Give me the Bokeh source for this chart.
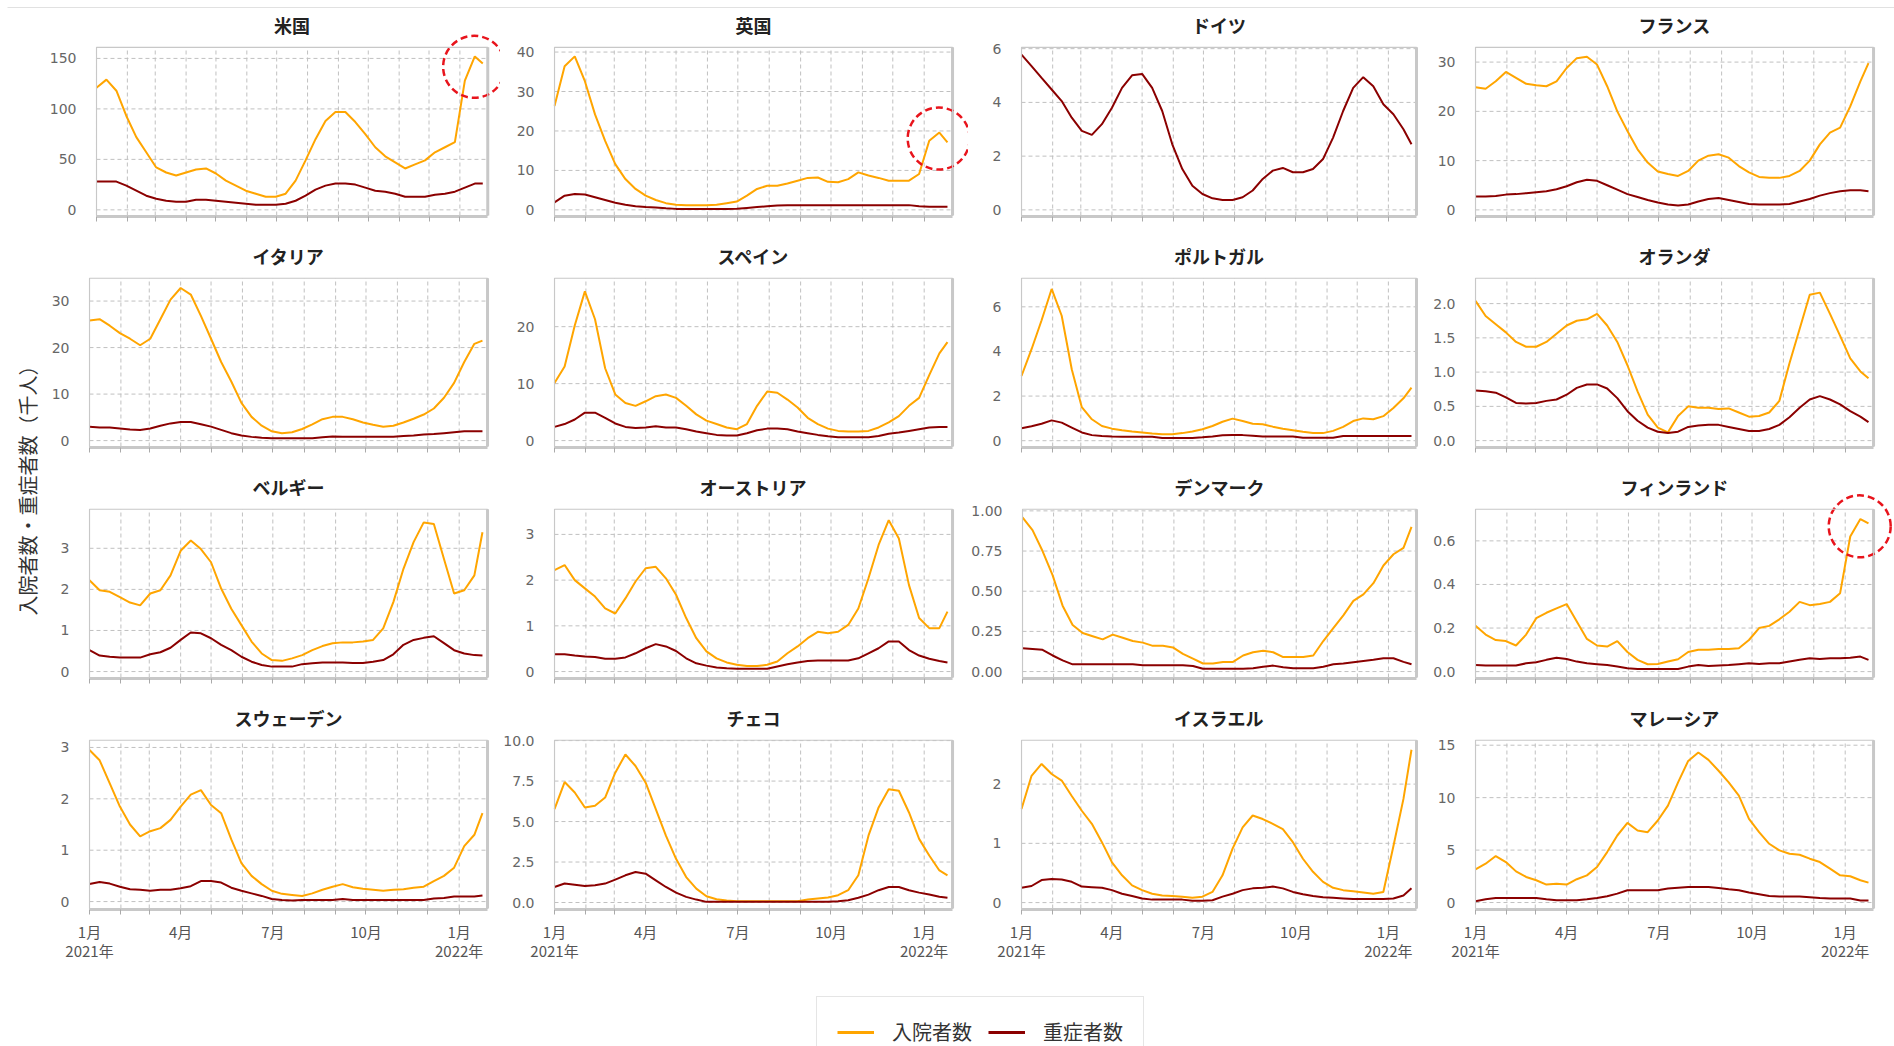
import datetime as dt
import math

from bokeh.embed import file_html
from bokeh.layouts import column, row
from bokeh.models import (BoxAnnotation, FixedTicker, Label, Legend, LegendItem,
                          NumeralTickFormatter, Range1d)
from bokeh.plotting import figure
from bokeh.resources import INLINE

# ---------------------------------------------------------------- data
# sampling dates (every 10 days from 2021-01-01 to 2022-01-24)
dates = [
    "2021-01-01", "2021-01-11", "2021-01-21", "2021-01-31", "2021-02-10",
    "2021-02-20", "2021-03-02", "2021-03-12", "2021-03-22", "2021-04-01",
    "2021-04-11", "2021-04-21", "2021-05-01", "2021-05-11", "2021-05-21",
    "2021-05-31", "2021-06-10", "2021-06-20", "2021-06-30", "2021-07-10",
    "2021-07-20", "2021-07-30", "2021-08-09", "2021-08-19", "2021-08-29",
    "2021-09-08", "2021-09-18", "2021-09-28", "2021-10-08", "2021-10-18",
    "2021-10-28", "2021-11-07", "2021-11-17", "2021-11-27", "2021-12-07",
    "2021-12-17", "2021-12-27", "2022-01-06", "2022-01-16", "2022-01-24",
]

countries = ["米国", "英国", "ドイツ", "フランス",
             "イタリア", "スペイン", "ポルトガル", "オランダ",
             "ベルギー", "オーストリア", "デンマーク", "フィンランド",
             "スウェーデン", "チェコ", "イスラエル", "マレーシア"]

# hospitalised (入院者数) and severe (重症者数), thousands of people
us_hosp = [121, 129, 118, 93, 72, 57, 42, 37, 34, 37, 40, 41, 36, 29, 24, 19, 16, 13, 13, 16,
           29, 49, 70, 88, 97, 97, 87, 75, 62, 53, 47, 41, 45, 49, 57, 62, 67, 128, 152, 145]
us_icu = [28, 28, 28, 24, 19, 14, 11, 9, 8, 8, 10, 10, 9, 8, 7, 6, 5, 5, 5, 6,
          9, 14, 20, 24, 26, 26, 25, 22, 19, 18, 16, 13, 13, 13, 15, 16, 18, 22, 26, 26]

uk_hosp = [26.3, 36.4, 38.9, 32.6, 24.2, 17.5, 11.6, 7.8, 5.3, 3.6, 2.5, 1.7, 1.3, 1.2, 1.2,
           1.2, 1.3, 1.7, 2.1, 3.6, 5.3, 6.1, 6.1, 6.7, 7.4, 8.1, 8.2, 7.1, 7.0, 7.8,
           9.5, 8.7, 8.1, 7.4, 7.4, 7.4, 9.1, 17.5, 19.6, 17.1]
uk_icu = [1.9, 3.6, 4.0, 3.9, 3.2, 2.5, 1.8, 1.3, 0.9, 0.7, 0.6, 0.4, 0.25, 0.2, 0.2,
          0.2, 0.2, 0.2, 0.3, 0.5, 0.7, 0.9, 1.1, 1.2, 1.2, 1.2, 1.2, 1.2, 1.2, 1.2,
          1.2, 1.2, 1.2, 1.2, 1.2, 1.2, 0.9, 0.8, 0.8, 0.8]

de_icu = [5.78, 5.35, 4.91, 4.48, 4.05, 3.43, 2.94, 2.79, 3.19, 3.80, 4.54, 5.01, 5.06, 4.54,
          3.68, 2.44, 1.52, 0.90, 0.59, 0.43, 0.37, 0.37, 0.47, 0.72, 1.15, 1.46, 1.56, 1.40,
          1.40, 1.52, 1.89, 2.69, 3.68, 4.54, 4.94, 4.60, 3.93, 3.56, 3.00, 2.44]

fr_hosp = [24.9, 24.6, 26.1, 28.0, 26.8, 25.6, 25.3, 25.1, 26.1, 28.8, 30.8, 31.1, 29.5, 25.1,
           20.0, 16.0, 12.3, 9.6, 7.8, 7.3, 6.9, 7.9, 10.0, 11.0, 11.3, 10.6, 8.9, 7.6, 6.7,
           6.5, 6.5, 6.9, 7.9, 10.0, 13.3, 15.7, 16.7, 21.0, 26.1, 29.8]
fr_icu = [2.7, 2.7, 2.8, 3.1, 3.2, 3.4, 3.6, 3.8, 4.2, 4.8, 5.6, 6.1, 5.9, 5.0, 4.1, 3.2, 2.6,
          2.0, 1.5, 1.1, 0.9, 1.1, 1.7, 2.2, 2.4, 2.0, 1.6, 1.2, 1.1, 1.1, 1.1, 1.2, 1.7, 2.2,
          2.9, 3.4, 3.8, 4.0, 4.0, 3.8]

it_hosp = [25.8, 26.1, 24.7, 23.1, 21.9, 20.5, 21.9, 26.1, 30.3, 32.8, 31.4, 26.8, 21.9, 16.9,
           12.7, 8.1, 5.1, 3.2, 2.0, 1.6, 1.8, 2.5, 3.5, 4.6, 5.1, 5.1, 4.6, 3.9, 3.4, 3.0,
           3.2, 3.9, 4.7, 5.6, 6.9, 9.2, 12.4, 16.9, 20.8, 21.5]
it_icu = [3.0, 2.8, 2.8, 2.6, 2.4, 2.3, 2.6, 3.2, 3.7, 4.0, 4.0, 3.5, 3.0, 2.3, 1.6, 1.1, 0.8,
          0.6, 0.5, 0.5, 0.5, 0.5, 0.5, 0.7, 0.9, 0.85, 0.85, 0.85, 0.85, 0.85, 0.85, 1.0,
          1.1, 1.3, 1.4, 1.6, 1.8, 2.0, 2.0, 2.0]

es_hosp = [10.1, 13.0, 20.2, 26.2, 21.3, 12.7, 8.1, 6.6, 6.1, 6.9, 7.8, 8.1, 7.5, 6.1, 4.6,
           3.5, 2.9, 2.3, 2.0, 2.9, 6.1, 8.6, 8.4, 7.2, 5.8, 4.0, 2.9, 2.1, 1.7, 1.6, 1.6,
           1.7, 2.3, 3.2, 4.3, 6.1, 7.5, 11.5, 15.3, 17.3]
es_icu = [2.4, 2.9, 3.7, 4.9, 4.9, 4.0, 3.0, 2.4, 2.2, 2.3, 2.5, 2.3, 2.3, 2.0, 1.6, 1.3, 1.0,
          0.9, 0.9, 1.3, 1.8, 2.1, 2.1, 2.0, 1.6, 1.3, 1.0, 0.75, 0.6, 0.6, 0.6, 0.6, 0.8,
          1.2, 1.4, 1.7, 2.0, 2.3, 2.4, 2.4]

pt_hosp = [2.9, 4.1, 5.4, 6.8, 5.6, 3.2, 1.5, 0.96, 0.66, 0.54, 0.47, 0.41, 0.37, 0.32, 0.29,
           0.29, 0.34, 0.41, 0.51, 0.66, 0.85, 0.99, 0.88, 0.76, 0.74, 0.63, 0.54, 0.47, 0.40,
           0.35, 0.34, 0.44, 0.62, 0.88, 1.0, 0.96, 1.1, 1.47, 1.9, 2.38]
pt_icu = [0.56, 0.65, 0.76, 0.91, 0.81, 0.59, 0.37, 0.25, 0.21, 0.19, 0.18, 0.18, 0.18, 0.18,
          0.12, 0.12, 0.12, 0.12, 0.15, 0.19, 0.24, 0.26, 0.25, 0.22, 0.19, 0.19, 0.19, 0.19,
          0.13, 0.13, 0.13, 0.13, 0.21, 0.21, 0.21, 0.21, 0.21, 0.21, 0.21, 0.21]

nl_hosp = [2.04, 1.82, 1.70, 1.58, 1.44, 1.37, 1.37, 1.44, 1.56, 1.68, 1.75, 1.77, 1.85, 1.68,
           1.44, 1.10, 0.72, 0.38, 0.19, 0.12, 0.36, 0.50, 0.48, 0.48, 0.46, 0.47, 0.41, 0.35,
           0.36, 0.41, 0.58, 1.13, 1.63, 2.13, 2.16, 1.85, 1.53, 1.20, 1.01, 0.91]
nl_icu = [0.73, 0.72, 0.70, 0.63, 0.55, 0.54, 0.55, 0.58, 0.60, 0.67, 0.77, 0.82, 0.82, 0.76,
          0.62, 0.43, 0.29, 0.19, 0.13, 0.11, 0.13, 0.20, 0.22, 0.23, 0.23, 0.20, 0.17, 0.14,
          0.14, 0.17, 0.23, 0.34, 0.48, 0.60, 0.65, 0.60, 0.53, 0.43, 0.35, 0.27]

be_hosp = [2.22, 1.98, 1.94, 1.81, 1.68, 1.61, 1.90, 1.98, 2.34, 2.94, 3.19, 2.98, 2.66, 2.02,
           1.53, 1.13, 0.73, 0.44, 0.28, 0.26, 0.32, 0.40, 0.52, 0.62, 0.69, 0.71, 0.71, 0.73,
           0.77, 1.05, 1.69, 2.50, 3.15, 3.63, 3.59, 2.74, 1.90, 1.98, 2.34, 3.39]
be_icu = [0.52, 0.39, 0.36, 0.34, 0.34, 0.34, 0.42, 0.47, 0.58, 0.77, 0.95, 0.93, 0.81, 0.65,
          0.52, 0.36, 0.24, 0.16, 0.12, 0.12, 0.12, 0.18, 0.20, 0.22, 0.22, 0.22, 0.21, 0.21,
          0.24, 0.28, 0.42, 0.65, 0.77, 0.82, 0.86, 0.69, 0.52, 0.44, 0.40, 0.39]

at_hosp = [2.22, 2.33, 2.00, 1.82, 1.64, 1.38, 1.27, 1.60, 1.97, 2.26, 2.29, 2.04, 1.68, 1.17,
           0.73, 0.44, 0.29, 0.20, 0.15, 0.12, 0.12, 0.15, 0.22, 0.40, 0.55, 0.73, 0.87, 0.84,
           0.87, 1.02, 1.38, 2.04, 2.77, 3.31, 2.91, 1.89, 1.17, 0.95, 0.95, 1.31]
at_icu = [0.38, 0.38, 0.35, 0.33, 0.32, 0.28, 0.28, 0.31, 0.40, 0.51, 0.60, 0.55, 0.45, 0.29,
          0.18, 0.13, 0.09, 0.07, 0.06, 0.06, 0.06, 0.06, 0.11, 0.16, 0.20, 0.23, 0.24, 0.24,
          0.24, 0.24, 0.29, 0.40, 0.51, 0.66, 0.66, 0.47, 0.35, 0.28, 0.23, 0.20]

dk_hosp = [0.96, 0.88, 0.75, 0.60, 0.41, 0.29, 0.24, 0.22, 0.20, 0.23, 0.21, 0.19, 0.18, 0.16,
           0.16, 0.15, 0.11, 0.08, 0.05, 0.05, 0.06, 0.06, 0.10, 0.12, 0.13, 0.12, 0.09, 0.09,
           0.09, 0.10, 0.19, 0.27, 0.35, 0.44, 0.48, 0.55, 0.66, 0.73, 0.77, 0.90]
dk_icu = [0.145, 0.14, 0.135, 0.10, 0.07, 0.045, 0.045, 0.045, 0.045, 0.045, 0.045, 0.045,
          0.04, 0.04, 0.04, 0.04, 0.04, 0.035, 0.017, 0.017, 0.017, 0.017, 0.017, 0.02, 0.03,
          0.037, 0.027, 0.02, 0.02, 0.02, 0.03, 0.045, 0.05, 0.058, 0.066, 0.073, 0.083,
          0.083, 0.06, 0.045]

fi_hosp = [0.21, 0.17, 0.145, 0.14, 0.12, 0.17, 0.245, 0.27, 0.29, 0.31, 0.23, 0.15, 0.12,
           0.115, 0.14, 0.09, 0.054, 0.034, 0.035, 0.046, 0.057, 0.09, 0.10, 0.10, 0.104,
           0.104, 0.107, 0.145, 0.20, 0.21, 0.24, 0.275, 0.32, 0.305, 0.31, 0.32, 0.36, 0.62,
           0.70, 0.68]
fi_icu = [0.03, 0.028, 0.028, 0.028, 0.028, 0.038, 0.043, 0.054, 0.064, 0.058, 0.046, 0.038,
          0.034, 0.03, 0.023, 0.015, 0.012, 0.012, 0.012, 0.012, 0.012, 0.023, 0.03, 0.026,
          0.028, 0.03, 0.034, 0.038, 0.035, 0.038, 0.038, 0.046, 0.054, 0.061, 0.058, 0.061,
          0.061, 0.064, 0.069, 0.054]

se_hosp = [2.95, 2.75, 2.30, 1.85, 1.50, 1.27, 1.37, 1.43, 1.59, 1.85, 2.08, 2.17, 1.88, 1.72,
           1.21, 0.75, 0.50, 0.34, 0.21, 0.15, 0.13, 0.11, 0.16, 0.23, 0.29, 0.34, 0.28, 0.25,
           0.23, 0.21, 0.23, 0.24, 0.27, 0.29, 0.40, 0.50, 0.66, 1.08, 1.30, 1.72]
se_icu = [0.34, 0.38, 0.35, 0.29, 0.24, 0.23, 0.21, 0.23, 0.23, 0.26, 0.30, 0.40, 0.40, 0.37,
          0.27, 0.21, 0.16, 0.11, 0.05, 0.03, 0.02, 0.03, 0.03, 0.03, 0.03, 0.05, 0.03, 0.03,
          0.03, 0.03, 0.03, 0.03, 0.03, 0.03, 0.06, 0.07, 0.10, 0.10, 0.10, 0.12]

cz_hosp = [5.77, 7.44, 6.79, 5.87, 5.97, 6.48, 8.02, 9.14, 8.43, 7.40, 5.77, 4.13, 2.70, 1.57,
           0.86, 0.39, 0.20, 0.12, 0.08, 0.08, 0.08, 0.08, 0.08, 0.08, 0.08, 0.18, 0.25, 0.31,
           0.45, 0.76, 1.68, 4.13, 5.87, 7.00, 6.90, 5.56, 3.93, 2.90, 1.98, 1.68]
cz_icu = [0.96, 1.17, 1.10, 1.02, 1.06, 1.17, 1.41, 1.68, 1.88, 1.78, 1.37, 0.96, 0.61, 0.35,
          0.18, 0.04, 0.04, 0.04, 0.04, 0.04, 0.04, 0.04, 0.04, 0.04, 0.04, 0.04, 0.04, 0.04,
          0.08, 0.14, 0.29, 0.49, 0.76, 0.96, 0.96, 0.76, 0.61, 0.49, 0.35, 0.29]

il_hosp = [1.58, 2.14, 2.34, 2.17, 2.06, 1.80, 1.55, 1.33, 1.02, 0.68, 0.46, 0.29, 0.21, 0.15,
           0.12, 0.11, 0.10, 0.08, 0.10, 0.18, 0.46, 0.91, 1.27, 1.47, 1.41, 1.33, 1.24, 1.02,
           0.74, 0.52, 0.35, 0.25, 0.21, 0.19, 0.17, 0.15, 0.18, 0.95, 1.75, 2.58]
il_icu = [0.25, 0.28, 0.38, 0.40, 0.39, 0.35, 0.27, 0.26, 0.25, 0.21, 0.15, 0.11, 0.07, 0.05,
          0.05, 0.05, 0.05, 0.03, 0.03, 0.04, 0.10, 0.15, 0.21, 0.24, 0.25, 0.27, 0.24, 0.18,
          0.14, 0.11, 0.09, 0.08, 0.07, 0.06, 0.06, 0.06, 0.06, 0.07, 0.12, 0.24]

my_hosp = [3.16, 3.70, 4.43, 3.86, 2.97, 2.44, 2.12, 1.71, 1.80, 1.71, 2.22, 2.59, 3.39, 4.81,
           6.39, 7.59, 6.87, 6.71, 7.82, 9.24, 11.46, 13.5, 14.3, 13.6, 12.56, 11.46, 10.19,
           7.97, 6.71, 5.60, 4.97, 4.65, 4.56, 4.18, 3.86, 3.23, 2.59, 2.50, 2.12, 1.90]
my_icu = [0.13, 0.32, 0.44, 0.44, 0.44, 0.44, 0.44, 0.32, 0.22, 0.22, 0.22, 0.32, 0.44, 0.60,
          0.85, 1.17, 1.17, 1.17, 1.17, 1.33, 1.42, 1.49, 1.49, 1.49, 1.39, 1.27, 1.17, 0.95,
          0.79, 0.63, 0.57, 0.57, 0.57, 0.51, 0.44, 0.38, 0.38, 0.38, 0.19, 0.19]

hosp_series = [us_hosp, uk_hosp, None, fr_hosp, it_hosp, es_hosp, pt_hosp, nl_hosp,
               be_hosp, at_hosp, dk_hosp, fi_hosp, se_hosp, cz_hosp, il_hosp, my_hosp]
icu_series = [us_icu, uk_icu, de_icu, fr_icu, it_icu, es_icu, pt_icu, nl_icu,
              be_icu, at_icu, dk_icu, fi_icu, se_icu, cz_icu, il_icu, my_icu]

# y tick values per panel
y_ticks = [
    [0, 50, 100, 150], [0, 10, 20, 30, 40], [0, 2, 4, 6], [0, 10, 20, 30],
    [0, 10, 20, 30], [0, 10, 20], [0, 2, 4, 6], [0, 0.5, 1.0, 1.5, 2.0],
    [0, 1, 2, 3], [0, 1, 2, 3], [0, 0.25, 0.5, 0.75, 1.0], [0, 0.2, 0.4, 0.6],
    [0, 1, 2, 3], [0, 2.5, 5.0, 7.5, 10.0], [0, 1, 2], [0, 5, 10, 15],
]
y_formats = ["0", "0", "0", "0", "0", "0", "0", "0.0",
             "0", "0", "0.00", "0.0", "0", "0.0", "0", "0"]

# x tick labels at month starts
month_labels = {(2021, 1): "1月\n2021年", (2021, 4): "4月", (2021, 7): "7月",
                (2021, 10): "10月", (2022, 1): "1月\n2022年"}

highlighted = ["米国", "英国", "フィンランド"]

# ---------------------------------------------------------------- layout / style
# plotted value limits of each panel's box
Y_LIMITS = [
    (-5.6, 161), (-1.43, 41.2), (-0.21, 6.05), (-1.14, 33.0),
    (-1.27, 34.9), (-1.04, 28.5), (-0.26, 7.28), (-0.086, 2.37),
    (-0.145, 3.95), (-0.13, 3.55), (-0.037, 1.01), (-0.027, 0.745),
    (-0.135, 3.14), (-0.37, 10.02), (-0.1, 2.74), (-0.57, 15.47),
]
START = dt.date(2021, 1, 1)
X_END = 393                      # days shown inside each box
YLAB_W = 46
COL_LEFT = [88 - YLAB_W, 53, 52, 52]   # room for the y tick labels
COL_BOX = [399, 399, 396, 399]         # width of the framed box
COL_RIGHT = [13, 16, 6, 21]            # free space right of the box
TOPBAR_H = 8
ROW_TOP = [39, 54, 54, 54]             # space above the box (holds the title)
ROW_BOTTOM = [8, 8, 8, 55]
BOX_H = 169
TITLE_RISE = 22                        # title centre above the box, px
RING_D = 62                            # diameter of the highlight ring, px
ORANGE = "#FFA500"
DARKRED = "#8B0000"
FRAME_GREY = "#c8c8c8"
GRID_GREY = "#c0c0c0"
RING_RED = "#e8141c"
CJK = "Noto Sans CJK JP"

xs = [(dt.date.fromisoformat(d) - START).days for d in dates]
month_ticks = []
month_overrides = {}
for ym in [(2021, m) for m in range(1, 13)] + [(2022, 1)]:
    off = (dt.date(ym[0], ym[1], 1) - START).days
    month_ticks.append(off)
    month_overrides[off] = month_labels.get(ym, "")


def make_panel(i):
    r, c = divmod(i, 4)
    name = countries[i]
    ylo, yhi = Y_LIMITS[i]
    px_x = COL_BOX[c] / X_END          # pixels per day
    px_y = BOX_H / (yhi - ylo)         # pixels per unit
    # the plotting frame also covers the title strip and the right margin,
    # so the title and the highlight ring are never clipped
    p = figure(
        width=COL_LEFT[c] + COL_BOX[c] + COL_RIGHT[c],
        height=ROW_TOP[r] + BOX_H + ROW_BOTTOM[r],
        x_range=Range1d(-1 / px_x, X_END + COL_RIGHT[c] / px_x),
        y_range=Range1d(ylo - 1 / px_y, yhi + ROW_TOP[r] / px_y),
        min_border_left=COL_LEFT[c], min_border_right=0,
        min_border_top=0, min_border_bottom=ROW_BOTTOM[r],
        output_backend="svg", toolbar_location=None,
    )
    p.background_fill_color = "white"
    p.border_fill_color = "white"
    p.outline_line_color = None
    p.grid.visible = False

    # dashed grid inside the box
    p.segment(x0=month_ticks, y0=[ylo] * len(month_ticks),
              x1=month_ticks, y1=[yhi] * len(month_ticks),
              line_color=GRID_GREY, line_dash="4 3", line_width=1)
    yt = y_ticks[i]
    p.segment(x0=[0] * len(yt), y0=yt, x1=[X_END] * len(yt), y1=yt,
              line_color=GRID_GREY, line_dash="4 3", line_width=1)

    # box outline with a heavier right edge
    p.add_layout(BoxAnnotation(left=0, right=X_END, bottom=ylo, top=yhi,
                               fill_alpha=0, fill_color=None,
                               line_color=FRAME_GREY, line_width=1.2, line_alpha=1))
    p.segment(x0=[X_END], y0=[ylo], x1=[X_END], y1=[yhi],
              line_color=FRAME_GREY, line_width=3)

    # title
    p.add_layout(Label(x=X_END / 2, y=yhi + TITLE_RISE / px_y, text=name,
                       text_align="center", text_baseline="middle",
                       text_font=CJK, text_font_style="bold",
                       text_font_size="18px", text_color="#222222"))

    # y axis
    ya = p.yaxis[0]
    ya.ticker = FixedTicker(ticks=yt)
    ya.formatter = NumeralTickFormatter(format=y_formats[i])
    ya.axis_line_color = None
    ya.major_tick_line_color = None
    ya.minor_tick_line_color = None
    ya.major_label_standoff = 13
    ya.major_label_text_font = "DejaVu Sans"
    ya.major_label_text_font_size = "14px"
    ya.major_label_text_color = "#666666"

    # x axis: a tick at every month, labels on the bottom row only
    xa = p.xaxis[0]
    xa.ticker = FixedTicker(ticks=month_ticks)
    xa.bounds = (0, X_END)
    xa.axis_line_color = FRAME_GREY
    xa.axis_line_width = 3
    xa.major_tick_line_color = "#aaaaaa"
    xa.major_tick_in = 0
    xa.major_tick_out = 5
    xa.minor_tick_line_color = None
    if r == 3:
        xa.major_label_overrides = month_overrides
        xa.major_label_standoff = 6
        xa.major_label_text_font = CJK
        xa.major_label_text_font_size = "15px"
        xa.major_label_text_color = "#555555"
        xa.major_label_text_line_height = 0.95
    else:
        xa.major_label_overrides = {k: "" for k in month_ticks}
        xa.major_label_standoff = 0
        xa.major_label_text_font_size = "1px"

    hosp = hosp_series[i]
    if hosp is not None:
        p.line(xs, hosp, line_color=ORANGE, line_width=2)
    p.line(xs, icu_series[i], line_color=DARKRED, line_width=2)

    # dashed ring around the latest surge
    if name in highlighted and hosp is not None:
        cx = sum(xs[-3:]) / 3
        cy = sum(hosp[-3:]) / 3
        p.scatter(x=[cx], y=[cy], size=RING_D, marker="circle",
                  fill_color=None, line_color=RING_RED, line_width=2.5,
                  line_dash="7 4")
    return p


panels = [make_panel(i) for i in range(16)]
rows = [row(*panels[4 * r:4 * r + 4]) for r in range(4)]
grid_height = sum(ROW_TOP[r] + BOX_H + ROW_BOTTOM[r] for r in range(4))

# shared y-axis title
ylab = figure(width=YLAB_W, height=grid_height, x_range=Range1d(0, YLAB_W),
              y_range=Range1d(0, grid_height), output_backend="svg",
              toolbar_location=None, min_border=0,
              x_axis_location=None, y_axis_location=None)
ylab.grid.visible = False
ylab.outline_line_color = None
ylab.add_layout(Label(x=27, y=grid_height - 477, text="入院者数・重症者数（千人）",
                      angle=math.pi / 2, text_align="center", text_baseline="middle",
                      text_font=CJK, text_font_size="20px", text_color="#333333"))

# thin grey band across the top
TOTAL_W = 1894
topbar = figure(width=TOTAL_W, height=TOPBAR_H, x_range=Range1d(0, TOTAL_W),
                y_range=Range1d(0, TOPBAR_H), output_backend="svg", toolbar_location=None,
                min_border=0, x_axis_location=None, y_axis_location=None)
topbar.grid.visible = False
topbar.outline_line_color = None
topbar.add_layout(BoxAnnotation(left=7, right=TOTAL_W, bottom=1, top=5,
                                fill_color="#c4c4c4", fill_alpha=1, line_color=None))

# legend strip
leg_h = 1046 - TOPBAR_H - grid_height
legfig = figure(width=TOTAL_W, height=leg_h, x_range=Range1d(0, TOTAL_W),
                y_range=Range1d(0, leg_h), output_backend="svg", toolbar_location=None,
                min_border=0, x_axis_location=None, y_axis_location=None)
legfig.grid.visible = False
legfig.outline_line_color = None
# the swatch lines sit off-canvas; only their legend glyphs show
r_h = legfig.line([-20, -10], [-20, -20], line_color=ORANGE, line_width=3)
r_i = legfig.line([-20, -10], [-20, -20], line_color=DARKRED, line_width=3)
legend = Legend(
    items=[LegendItem(label="入院者数", renderers=[r_h]),
           LegendItem(label="重症者数", renderers=[r_i])],
    orientation="horizontal", location=(816, leg_h - 39 - 64),
    padding=20, margin=0, spacing=16, glyph_width=37, glyph_height=24,
    label_height=24, label_standoff=18,
    label_text_font=CJK, label_text_font_size="20px", label_text_color="#333333",
    border_line_color="#cccccc", border_line_width=1.5,
    background_fill_color="white", background_fill_alpha=1,
)
legfig.add_layout(legend)

layout = column(topbar, row(ylab, column(*rows)), legfig)

open("out.html", "w").write(file_html(layout, INLINE))
